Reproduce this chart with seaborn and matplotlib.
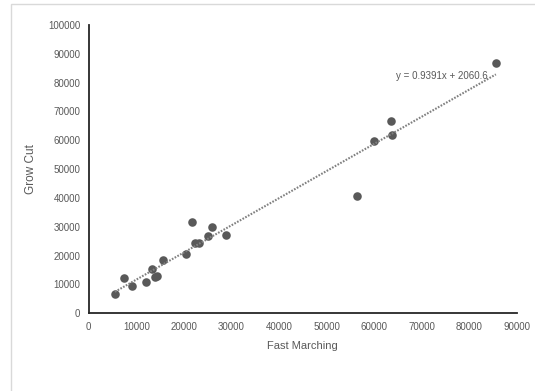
import matplotlib
matplotlib.use("Agg")
import matplotlib.pyplot as plt
import numpy as np
import pandas as pd
import seaborn as sns
from matplotlib.patches import Rectangle

# Values (Fast Marching vs Grow Cut)
fast_marching = [5500, 7400, 9100, 12100, 13200, 13900, 14300, 15500, 20500,
                 21700, 22300, 23200, 25100, 26000, 28800, 56300, 60000,
                 63500, 63800, 85600]
grow_cut = [6500, 12200, 9400, 10900, 15500, 12600, 13000, 18400, 20500,
            31700, 24200, 24200, 26700, 29800, 27100, 40600, 59800,
            66700, 62000, 86700]
equation = "y = 0.9391x + 2060.6"

df = pd.DataFrame({"Fast Marching": fast_marching, "Grow Cut": grow_cut})

sns.set_style("white")
plt.rcParams["font.family"] = ["Liberation Sans", "DejaVu Sans"]

fig = plt.figure(figsize=(5.35, 3.91), dpi=100)
ax = fig.add_axes([0.166, 0.199, 0.8, 0.737])

# light chart-area border
fig.patches.append(Rectangle((11 / 535, -0.02), 1.2, 1 - 4 / 391 + 0.02,
                             transform=fig.transFigure, fill=False,
                             edgecolor="#d9d9d9", linewidth=1))

sns.regplot(data=df, x="Fast Marching", y="Grow Cut", ax=ax, ci=None,
            scatter_kws={"s": 38, "color": "#595959", "alpha": 1, "linewidths": 0},
            line_kws={"color": "#808080", "linestyle": (0, (0.8, 0.7)), "linewidth": 1.5})

ax.set_xlim(0, 90000)
ax.set_ylim(0, 100000)
ax.set_xticks(np.arange(0, 90001, 10000))
ax.set_yticks(np.arange(0, 100001, 10000))
ax.tick_params(axis="both", labelsize=7, colors="#595959", length=0, pad=6)

for side in ["top", "right"]:
    ax.spines[side].set_visible(False)
for side in ["left", "bottom"]:
    ax.spines[side].set_color("#262626")
    ax.spines[side].set_linewidth(1.3)

ax.set_xlabel("Fast Marching", fontsize=8, color="#595959", labelpad=7)
ax.set_ylabel("Grow Cut", fontsize=8.5, color="#595959", labelpad=8)

ax.text(74300, 82300, equation, fontsize=7, color="#595959", ha="center", va="center")

fig.savefig("out.png", dpi=100)
